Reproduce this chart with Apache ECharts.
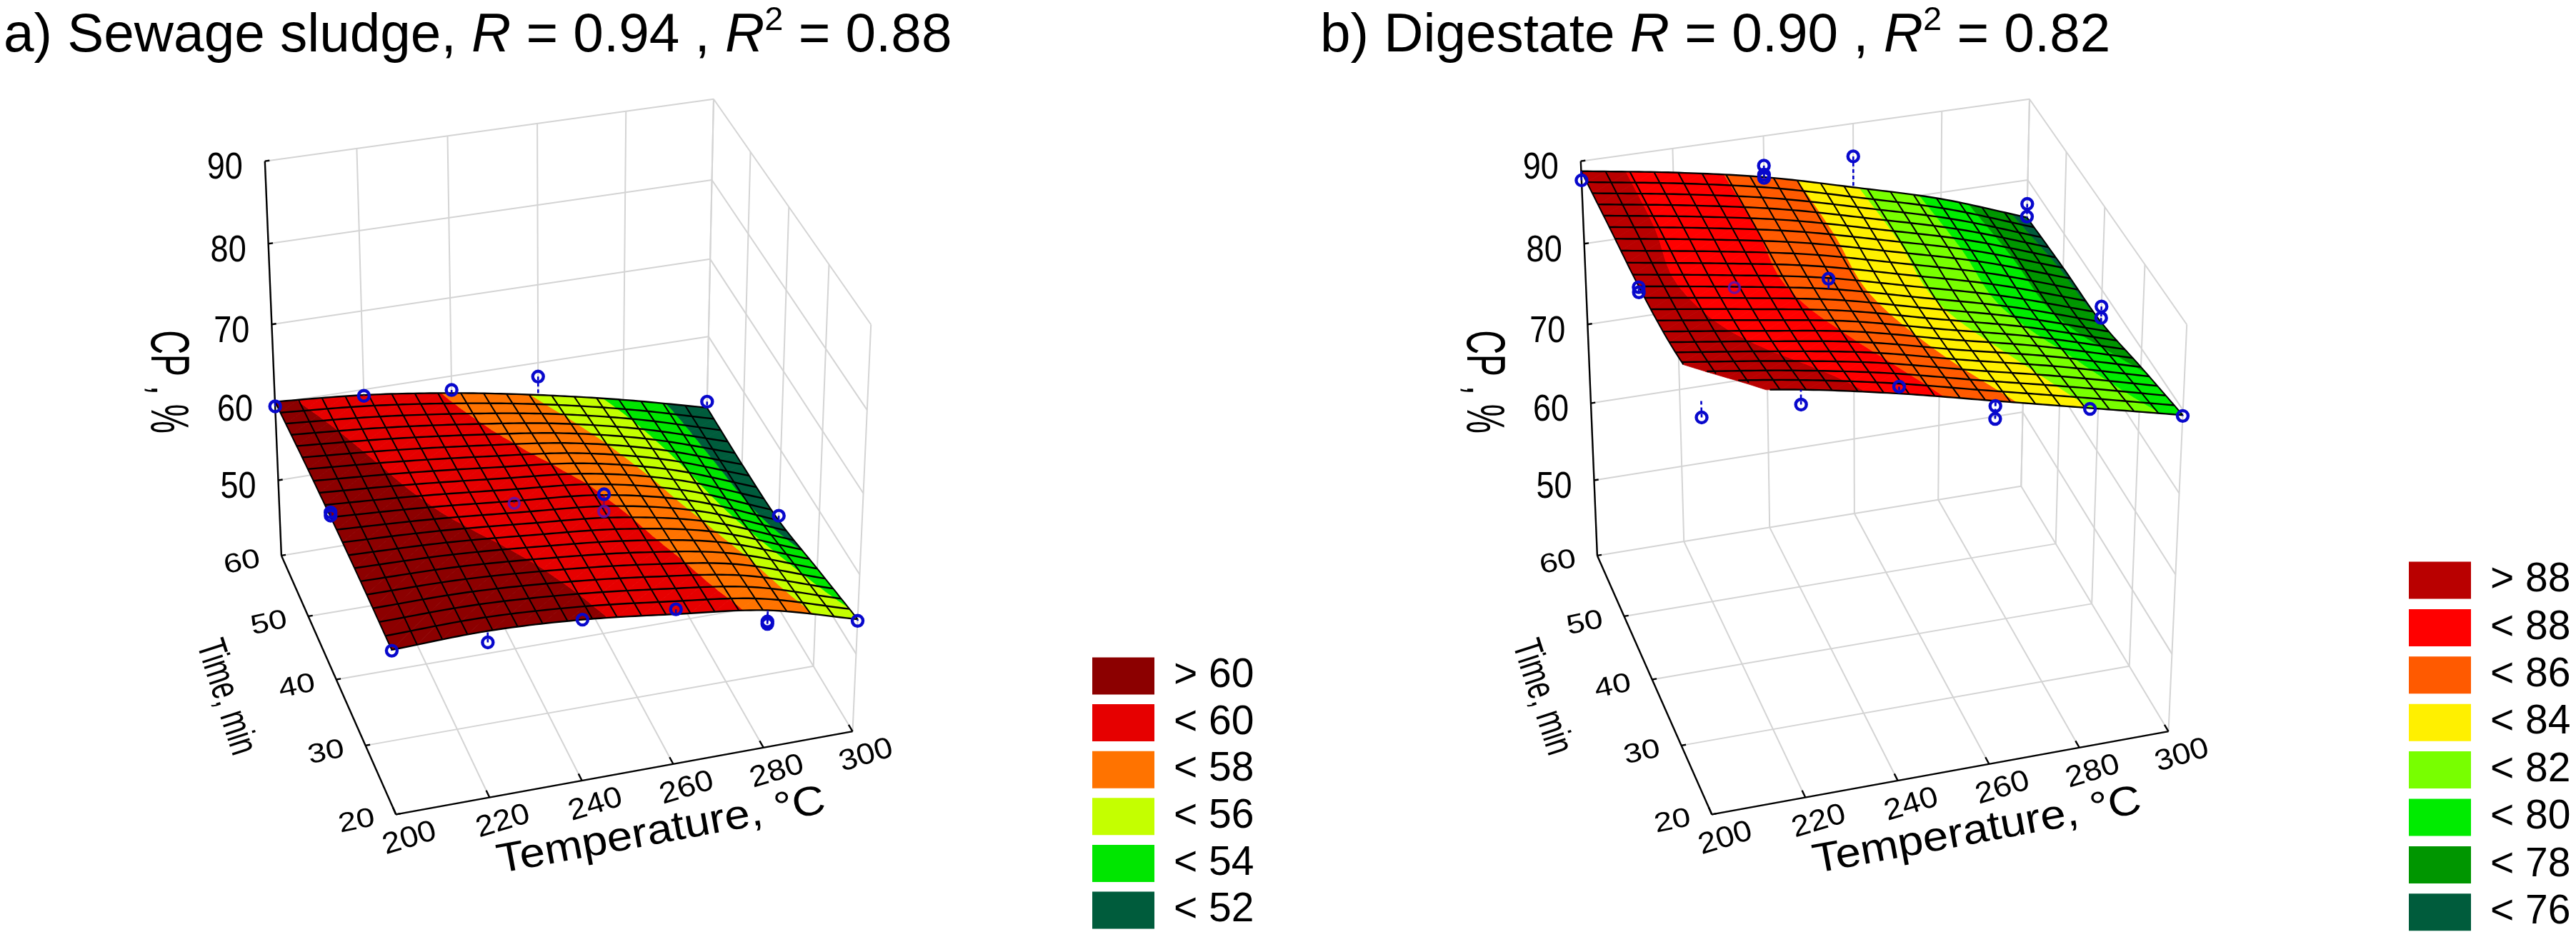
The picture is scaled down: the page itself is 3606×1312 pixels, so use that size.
<!DOCTYPE html>
<html>
<head>
<meta charset="utf-8">
<style>html,body{margin:0;padding:0;background:#fff}#c{width:3606px;height:1312px}</style>
<script src="https://cdn.jsdelivr.net/npm/echarts@6/dist/echarts.min.js"></script>
</head>
<body>
<div id="c"></div>
<script>
// ---------- axis ticks ----------
const temperatureTicks = [200, 220, 240, 260, 280, 300];
const timeTicks = [20, 30, 40, 50, 60];
const cpTicks = [50, 60, 70, 80, 90];
const cpRange = [40, 90];

// ---------- fitted surface a) Sewage sludge: CP at each temperature tick, one list per time tick ----------
const sludgeT20 = [60.6, 60.9, 60.3, 59.0, 57.5, 54.4];
const sludgeT30 = [60.8, 60.6, 59.8, 58.6, 56.6, 52.7];
const sludgeT40 = [60.8, 60.1, 59.1, 58.0, 55.4, 51.0];
const sludgeT50 = [60.6, 59.7, 58.5, 57.0, 54.4, 50.6];
const sludgeT60 = [60.2, 59.3, 57.8, 55.8, 53.4, 50.6];
// ---------- fitted surface b) Digestate ----------
const digestT20 = [91.0, 89.4, 87.2, 84.6, 82.0, 79.4];
const digestT30 = [89.3, 87.7, 85.9, 83.3, 80.8, 77.8];
const digestT40 = [88.7, 87.0, 85.1, 82.4, 79.6, 76.1];
const digestT50 = [88.8, 87.1, 85.1, 82.4, 79.5, 75.8];
const digestT60 = [88.8, 87.1, 85.0, 82.2, 79.2, 75.3];

// ---------- measured points [temperature, time, CP] ----------
const sludgePoints = [
  [200,60,59.6],[220,60,59.2],[240,60,58.2],[260,60,58.2],[300,60,51.4],
  [200,40,61.4],[200,40,61.0],[240,40,58.8],[260,40,58.1],[260,40,55.9],[300,40,51.6],
  [200,20,60.5],[220,20,59.5],[240,20,60.3],[260,20,59.6],[280,20,56.1],[280,20,55.8],[300,20,54.2]
];
const digestPoints = [
  [200,60,87.7],[240,60,86.4],[240,60,85.3],[240,60,84.9],[260,60,86.0],[300,60,77.0],[300,60,75.4],
  [200,40,88.6],[200,40,88.0],[220,40,86.9],[240,40,86.3],[300,40,78.0],[300,40,76.6],
  [200,20,88.0],[220,20,87.7],[240,20,88.0],[260,20,84.0],[260,20,82.5],[280,20,81.9],[300,20,79.3]
];

// ---------- colour bands ----------
const sludgeBreaks = [52, 54, 56, 58, 60];
const sludgeLabels = ['> 60', '< 60', '< 58', '< 56', '< 54', '< 52'];
const sludgeColors = ['#8c0000', '#e60000', '#ff7300', '#c4ff00', '#00e600', '#005c3c'];
const digestBreaks = [76, 78, 80, 82, 84, 86, 88];
const digestLabels = ['> 88', '< 88', '< 86', '< 84', '< 82', '< 80', '< 78', '< 76'];
const digestColors = ['#b90000', '#ff0000', '#ff5a00', '#fff000', '#78ff00', '#00ec00', '#009600', '#005c3c'];

// ---------- axis box calibration: box corner (temperature, time, CP) and where it appears on the page ----------
const boxCorners = [
  [200,60,40, 394,777],[200,60,90, 371,226],[300,60,90, 999,138],[300,20,90, 1219,455],
  [200,20,40, 554,1141],[300,20,40, 1194,1023],[300,60,40, 987,682]
];
const panelShift = 1842;
const meshCellsT = 19;
const meshCellsTime = 20;

function solveCamera() {
  const A = [], b = [];
  boxCorners.forEach(c => {
    const u = (c[0]-200)/100, v = (c[1]-20)/40, w = (c[2]-40)/50, x = c[3]/1000, y = c[4]/1000;
    A.push([u,v,w,1,0,0,0,0,-x*u,-x*v,-x*w]); b.push(x);
    A.push([0,0,0,0,u,v,w,1,-y*u,-y*v,-y*w]); b.push(y);
  });
  const n = 11, M = [];
  for (let i = 0; i < n; i++) {
    const r = new Array(n+1).fill(0);
    for (let k = 0; k < A.length; k++) {
      for (let j = 0; j < n; j++) r[j] += A[k][i]*A[k][j];
      r[n] += A[k][i]*b[k];
    }
    r[i] += 1e-10;
    M.push(r);
  }
  for (let i = 0; i < n; i++) {
    let p = i;
    for (let k = i+1; k < n; k++) if (Math.abs(M[k][i]) > Math.abs(M[p][i])) p = k;
    const t = M[i]; M[i] = M[p]; M[p] = t;
    for (let k = 0; k < n; k++) if (k !== i) {
      const f = M[k][i]/M[i][i];
      for (let j = i; j <= n; j++) M[k][j] -= f*M[i][j];
    }
  }
  return M.map((r,i) => r[n]/r[i]);
}
const cam = solveCamera();
function projector(shift) {
  return function (T, t, z) {
    const u = (T-200)/100, v = (t-20)/40, w = (z-40)/50;
    const d = cam[8]*u+cam[9]*v+cam[10]*w+1;
    return [1000*(cam[0]*u+cam[1]*v+cam[2]*w+cam[3])/d + shift,
            1000*(cam[4]*u+cam[5]*v+cam[6]*w+cam[7])/d];
  };
}

// smooth reading of the table between its ticks
function spline(vals, x) {
  const n = vals.length, i = Math.min(Math.max(Math.floor(x), 0), n-2), f = x-i;
  const p1 = vals[i], p2 = vals[i+1];
  const p0 = i > 0 ? vals[i-1] : 2*p1-p2;
  const p3 = i < n-2 ? vals[i+2] : 2*p2-p1;
  return 0.5*(2*p1+(p2-p0)*f+(2*p0-5*p1+4*p2-p3)*f*f+(3*p1-p0-3*p2+p3)*f*f*f);
}
function surfaceFn(rows) {
  return (T, t) => {
    const col = rows.map(r => spline(r, (T-200)/20));
    return spline(col, (t-20)/10);
  };
}
function clip(poly, level, keepAbove) {
  const out = [];
  for (let i = 0; i < poly.length; i++) {
    const a = poly[i], b = poly[(i+1)%poly.length];
    const ia = keepAbove ? a[2] >= level : a[2] <= level;
    const ib = keepAbove ? b[2] >= level : b[2] <= level;
    if (ia) out.push(a);
    if (ia !== ib) {
      const f = (level-a[2])/(b[2]-a[2]);
      out.push([a[0]+f*(b[0]-a[0]), a[1]+f*(b[1]-a[1]), level]);
    }
  }
  return out;
}

function makePanel(cfg) {
  const P = projector(cfg.shift), S = surfaceFn(cfg.rows);
  const dT = 100/meshCellsT, dt = 40/meshCellsTime;
  const zTop = cpRange[1], zLow = cpRange[0];
  const series = [];

  // walls and floor
  const wallLines = [];
  temperatureTicks.forEach(T => {
    wallLines.push([T,20,zLow,T,60,zLow]);
    wallLines.push([T,60,zLow,T,60,zTop]);
  });
  timeTicks.forEach(t => {
    wallLines.push([200,t,zLow,300,t,zLow]);
    wallLines.push([300,t,zLow,300,t,zTop]);
  });
  cpTicks.forEach(z => {
    wallLines.push([200,60,z,300,60,z]);
    wallLines.push([300,60,z,300,20,z]);
  });
  series.push({
    type:'custom', name:cfg.id+' walls', coordinateSystem:'none', silent:true, z:1, data:wallLines,
    renderItem:(p,api)=>{
      const a=P(api.value(0),api.value(1),api.value(2)), b=P(api.value(3),api.value(4),api.value(5));
      return {type:'line',shape:{x1:a[0],y1:a[1],x2:b[0],y2:b[1]},style:{stroke:'#d4d4d4',lineWidth:2}};
    }
  });
  // black axes with ticks
  const axisLines = [[200,60,zLow,200,60,zTop],[200,60,zLow,200,20,zLow],[200,20,zLow,300,20,zLow]];
  cpTicks.forEach(z => axisLines.push([200,60,z,201,60,z]));
  timeTicks.forEach(t => axisLines.push([200,t,zLow,201,t,zLow]));
  temperatureTicks.forEach(T => axisLines.push([T,20,zLow,T,21,zLow]));
  series.push({
    type:'custom', name:cfg.id+' axes', coordinateSystem:'none', silent:true, z:2, data:axisLines,
    renderItem:(p,api)=>{
      const a=P(api.value(0),api.value(1),api.value(2)), b=P(api.value(3),api.value(4),api.value(5));
      return {type:'line',shape:{x1:a[0],y1:a[1],x2:b[0],y2:b[1]},style:{stroke:'#000',lineWidth:2.4}};
    }
  });

  // surface bands (labels run from the top band down)
  const edges = [-Infinity].concat(cfg.breaks, [zTop]);
  cfg.labels.forEach((label, idx) => {
    const hi = edges[edges.length-1-idx], lo = edges[edges.length-2-idx];
    const polys = [];
    for (let i = 0; i < meshCellsT; i++) for (let j = 0; j < meshCellsTime; j++) {
      const T0=200+i*dT, T1=T0+dT, t0=20+j*dt, t1=t0+dt;
      const a=[T0,t0,S(T0,t0)], b=[T1,t0,S(T1,t0)], c=[T1,t1,S(T1,t1)], d=[T0,t1,S(T0,t1)];
      [[a,b,c],[a,c,d]].forEach(tri => {
        let q = clip(tri, hi, false);
        if (lo > -Infinity && q.length) q = clip(q, lo, true);
        if (q.length >= 3) polys.push(q);
      });
    }
    const color = cfg.colors[idx];
    series.push({
      type:'custom', name:label, coordinateSystem:'none', silent:true, z:3,
      itemStyle:{color:color}, data:polys.map((q,k)=>k),
      renderItem:(p)=>({type:'polygon',shape:{points:polys[p.dataIndex].map(v=>P(v[0],v[1],v[2]))},
        style:{fill:color,stroke:color,lineWidth:0.8}})
    });
  });

  // mesh lines, cut off at the top of the CP axis
  const mesh = [];
  function addLine(sample, width) {
    let cur = [];
    const n = 80;
    for (let k = 0; k <= n; k++) {
      const q = sample(k/n);
      const z = S(q[0], q[1]);
      if (z <= zTop) cur.push([q[0], q[1], z]);
      else { if (cur.length>1) mesh.push({w:width,pts:cur}); cur = []; }
    }
    if (cur.length>1) mesh.push({w:width,pts:cur});
  }
  for (let i = 0; i <= meshCellsT; i++) { const T = 200+i*dT; addLine(f => [T, 20+40*f], 2); }
  for (let j = 0; j <= meshCellsTime; j++) { const t = 20+j*dt; addLine(f => [200+100*f, t], 2.4); }
  series.push({
    type:'custom', name:cfg.id+' mesh', coordinateSystem:'none', silent:true, z:4, data:mesh.map((m,k)=>k),
    renderItem:(p)=>({type:'polyline',shape:{points:mesh[p.dataIndex].pts.map(v=>P(v[0],v[1],v[2]))},
      style:{fill:null,stroke:'#000',lineWidth:mesh[p.dataIndex].w}})
  });

  // drop lines and points
  const isUnder = (T,t,z) => z < S(T,t) && T>200 && T<300 && t>20 && t<60;
  series.push({
    type:'custom', name:cfg.id+' drops', coordinateSystem:'none', silent:true, z:5, data:cfg.points,
    renderItem:(p,api)=>{
      const T=api.value(0), t=api.value(1), z=api.value(2);
      const s=Math.min(S(T,t), zTop);
      const a=P(T,t,z), b=P(T,t,s);
      return {type:'line',shape:{x1:a[0],y1:a[1],x2:b[0],y2:b[1]},
        style:{stroke:'#0000c8',lineWidth:2.6,lineDash:[5,4],opacity:isUnder(T,t,z)?0.4:1}};
    }
  });
  series.push({
    type:'custom', name:cfg.id+' points', coordinateSystem:'none', silent:true, z:6, data:cfg.points,
    renderItem:(p,api)=>{
      const T=api.value(0), t=api.value(1), z=api.value(2);
      const a=P(T,t,z);
      const under = isUnder(T,t,z);
      return {type:'circle',shape:{cx:a[0],cy:a[1],r:7.5},
        style:{fill:'rgba(255,255,255,0)',stroke:under?'#5a10b4':'#0808cc',lineWidth:under?3.6:4.4,opacity:under?0.85:1}};
    }
  });

  // axis texts
  const texts = [];
  cpTicks.forEach(z => { const q=P(200,60,z); texts.push([String(z),q[0]-56,q[1]+10,0,0.9,1.05,50]); });
  timeTicks.forEach(t => { const q=P(200,t,zLow); texts.push([String(t),q[0]-55,q[1]+10,12,1,0.82,46]); });
  temperatureTicks.forEach(T => { const q=P(T,20,zLow); texts.push([String(T),q[0]+19,q[1]+34,17,1,0.9,46]); });
  const cpPos=P(200,60,65), timePos=P(200,40,zLow), tempPos=P(250,20,zLow);
  texts.push(['CP , %',cpPos[0]-150,cpPos[1]+25,-90,0.8,1.3,58]);
  texts.push(['Time, min',timePos[0]-155,timePos[1]+25,-72,0.68,1,56]);
  texts.push(['Temperature, °C',tempPos[0]+47,tempPos[1]+83,10.5,1,0.9,64]);
  series.push({
    type:'custom', name:cfg.id+' texts', coordinateSystem:'none', silent:true, z:7, data:texts.map((x,k)=>k),
    renderItem:(p)=>{
      const x=texts[p.dataIndex];
      return {type:'text',x:x[1],y:x[2],rotation:x[3]*Math.PI/180,scaleX:x[4],scaleY:x[5],
        style:{text:x[0],textAlign:'center',textVerticalAlign:'middle',align:'center',verticalAlign:'middle',
          fill:'#000',font:x[6]+'px "Liberation Sans"'}};
    }
  });
  return series;
}

const series = makePanel({id:'a',shift:0,rows:[sludgeT20,sludgeT30,sludgeT40,sludgeT50,sludgeT60],
    breaks:sludgeBreaks,labels:sludgeLabels,colors:sludgeColors,points:sludgePoints})
  .concat(makePanel({id:'b',shift:panelShift,rows:[digestT20,digestT30,digestT40,digestT50,digestT60],
    breaks:digestBreaks,labels:digestLabels,colors:digestColors,points:digestPoints}));

const titleRich = {
  n:{fontSize:76.5,fontWeight:'normal',fontFamily:'Liberation Sans',color:'#000',lineHeight:90},
  i:{fontSize:76.5,fontWeight:'normal',fontFamily:'Liberation Sans',fontStyle:'italic',color:'#000',lineHeight:90},
  s:{fontSize:47,fontWeight:'normal',fontFamily:'Liberation Sans',color:'#000',lineHeight:90,verticalAlign:'top'}
};
function legendOf(labels,left,top,gap){
  return {data:labels,orient:'vertical',left:left,top:top,height:1000,padding:0,itemWidth:87,itemHeight:52,itemGap:gap,
    icon:'rect',selectedMode:false,
    textStyle:{fontSize:57,fontFamily:'Liberation Sans',color:'#000',lineHeight:40,padding:[0,0,0,22]}};
}

echarts.init(document.getElementById('c'),null,{renderer:'canvas'}).setOption({
  animation:false,
  backgroundColor:'#fff',
  tooltip:{show:false},
  title:[
    {left:5,top:6,padding:0,text:'{n|a) Sewage sludge, }{i|R}{n| = 0.94 , }{i|R}{s|2}{n| = 0.88}',textStyle:{fontWeight:'normal',rich:titleRich}},
    {left:1848,top:6,padding:0,text:'{n|b) Digestate }{i|R}{n| = 0.90 , }{i|R}{s|2}{n| = 0.82}',textStyle:{fontWeight:'normal',rich:titleRich}}
  ],
  legend:[legendOf(sludgeLabels,1529,918,8.6),legendOf(digestLabels,3372,784,9.4)],
  series:series
});
</script>
</body>
</html>
